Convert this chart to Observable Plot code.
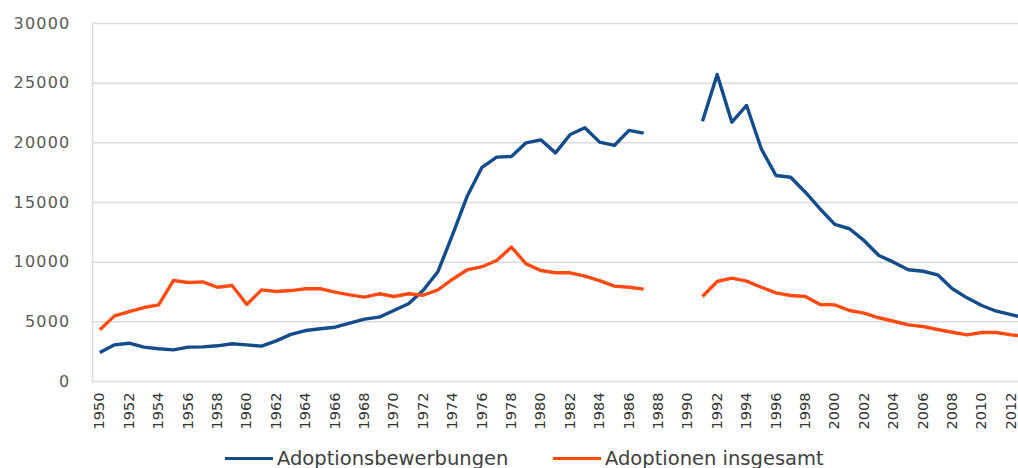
<!DOCTYPE html>
<html>
<head>
<meta charset="utf-8">
<script src="https://cdn.jsdelivr.net/npm/d3@7"></script>
<script src="https://cdn.jsdelivr.net/npm/@observablehq/plot@0.6"></script>
<style>
  html, body { margin: 0; padding: 0; background: #fff; }
  #chart { width: 1018px; height: 468px; overflow: hidden; position: relative; }
  .legend { position: absolute; left: 0; top: 445px; width: 1018px; height: 26px;
            font-family: "DejaVu Sans", sans-serif; font-size: 19.5px; color: #404040; }
  .item { position: absolute; top: 0; display: flex; align-items: center; height: 26px; }
  .swatch { width: 48px; height: 3px; margin-right: 4px; }
</style>
</head>
<body>
<div id="chart"></div>
<script>
const years = [1950,1951,1952,1953,1954,1955,1956,1957,1958,1959,
  1960,1961,1962,1963,1964,1965,1966,1967,1968,1969,
  1970,1971,1972,1973,1974,1975,1976,1977,1978,1979,
  1980,1981,1982,1983,1984,1985,1986,1987,1988,1989,
  1990,1991,1992,1993,1994,1995,1996,1997,1998,1999,
  2000,2001,2002,2003,2004,2005,2006,2007,2008,2009,
  2010,2011,2012,2013];

const bewerbungen = [2430,3070,3210,2880,2740,2650,2880,2900,2990,3160,
  3070,2960,3400,3950,4270,4420,4550,4890,5230,5390,
  5950,6510,7650,9200,12300,15550,17950,18800,18860,20000,
  20250,19160,20700,21260,20060,19780,21040,20810,null,null,
  null,21810,25730,21730,23130,19500,17260,17120,15860,14470,
  13160,12800,11800,10560,10000,9360,9240,8940,7770,7010,
  6370,5890,5610,5300];

const adoptionen = [4330,5500,5850,6200,6420,8460,8300,8350,7900,8040,
  6450,7680,7540,7620,7770,7770,7490,7260,7070,7350,
  7120,7350,7230,7680,8570,9360,9620,10140,11260,9860,
  9300,9110,9110,8830,8460,7990,7900,7740,null,null,
  null,7120,8380,8660,8410,7900,7430,7210,7120,6450,
  6420,5950,5730,5340,5050,4750,4610,4360,4130,3910,
  4110,4110,3910,3800];

const seriesNames = ["Adoptionsbewerbungen", "Adoptionen insgesamt"];
const seriesColors = ["#124c8c", "#ff4a12"];
const xTicks = [1950,1952,1954,1956,1958,1960,1962,1964,1966,1968,1970,1972,1974,1976,1978,1980,
  1982,1984,1986,1988,1990,1992,1994,1996,1998,2000,2002,2004,2006,2008,2010,2012];
const yTicks = [0,5000,10000,15000,20000,25000,30000];

const rows = [];
years.forEach((yr, i) => {
  rows.push({year: yr, value: bewerbungen[i], series: seriesNames[0]});
  rows.push({year: yr, value: adoptionen[i], series: seriesNames[1]});
});

const plot = Plot.plot({
  width: 1018,
  height: 440,
  marginLeft: 92,
  marginRight: 0,
  marginTop: 23,
  marginBottom: 59,
  style: {fontFamily: "'DejaVu Sans', sans-serif", color: "#595959", background: "#fff"},
  x: {domain: [1949.5, 2012.5], ticks: xTicks, tickFormat: d3.format("d"), tickSize: 0,
      tickRotate: -90, tickPadding: 12, label: null},
  y: {domain: [0, 30000], ticks: yTicks, tickFormat: d3.format("d"), tickSize: 0,
      tickPadding: 22, label: null},
  color: {domain: seriesNames, range: seriesColors},
  marks: [
    Plot.gridY(yTicks, {stroke: "#d9d9d9", strokeOpacity: 1, strokeWidth: 1.5}),
    Plot.ruleX([1949.5], {stroke: "#d9d9d9", strokeWidth: 1.5}),
    Plot.axisY({ticks: yTicks, tickFormat: d3.format("d"), tickSize: 0, tickPadding: 22,
      fontSize: 16, label: null, fill: "#595959"}),
    Plot.axisX({ticks: xTicks, tickFormat: d3.format("d"), tickSize: 0, tickRotate: -90,
      tickPadding: 11, fontSize: 14.5, label: null, fill: "#333333"}),
    Plot.line(rows, {x: "year", y: "value", z: "series", stroke: "series",
      strokeWidth: 3.4, clip: true, strokeLinejoin: "round", strokeLinecap: "butt"})
  ]
});
plot.querySelectorAll("g[aria-label='y-axis tick label'] text").forEach(t => t.setAttribute("letter-spacing", "1.2"));
document.getElementById("chart").appendChild(plot);

const legend = document.createElement("div");
legend.className = "legend";
const legendX = [225, 553];
seriesNames.forEach((name, i) => {
  const item = document.createElement("div");
  item.className = "item";
  item.style.left = legendX[i] + "px";
  const sw = document.createElement("div");
  sw.className = "swatch";
  sw.style.background = seriesColors[i];
  const label = document.createElement("span");
  label.textContent = name;
  item.appendChild(sw);
  item.appendChild(label);
  legend.appendChild(item);
});
document.getElementById("chart").appendChild(legend);
</script>
</body>
</html>
